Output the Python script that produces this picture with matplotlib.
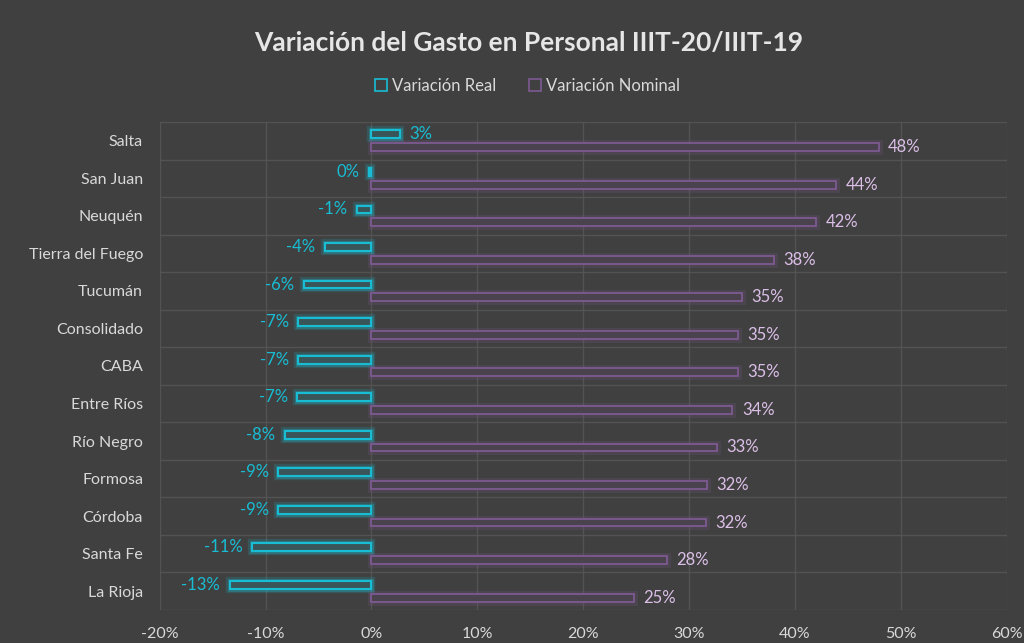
import matplotlib
matplotlib.use("Agg")
import matplotlib.pyplot as plt
import matplotlib.patheffects as pe
from matplotlib.patches import Patch
import numpy as np

plt.rcParams['font.family'] = ['Lato', 'DejaVu Sans']

provincias = ['Salta', 'San Juan', 'Neuquén', 'Tierra del Fuego', 'Tucumán',
              'Consolidado', 'CABA', 'Entre Ríos', 'Río Negro', 'Formosa',
              'Córdoba', 'Santa Fe', 'La Rioja']
var_real = [2.7, -0.2, -1.4, -4.4, -6.4, -6.9, -6.9, -7.0, -8.2, -8.8, -8.8, -11.3, -13.4]
var_nominal = [47.9, 43.9, 42.0, 38.0, 35.0, 34.6, 34.6, 34.1, 32.6, 31.7, 31.6, 27.9, 24.8]

bg = '#404040'
cyan = '#18bdd4'
purple = '#7d5a92'
grid_c = '#535353'
txt = '#d9d9d9'

fig = plt.figure(figsize=(10.24, 6.43), dpi=100, facecolor=bg)
ax = fig.add_axes([0.156, 0.0513, 0.827, 0.759], facecolor=bg)

y = np.arange(len(provincias))
h = 0.21
off = 0.17

glow_c = [pe.Stroke(linewidth=6, foreground=cyan, alpha=0.18),
          pe.Stroke(linewidth=3.5, foreground=cyan, alpha=0.3), pe.Normal()]
glow_p = [pe.Stroke(linewidth=5, foreground=purple, alpha=0.2), pe.Normal()]

bars_r = ax.barh(y - off, var_real, height=h, color='#3a5558',
                 edgecolor=cyan, linewidth=1.5, zorder=3)
bars_n = ax.barh(y + off, var_nominal, height=h, color='#4a434d',
                 edgecolor=purple, linewidth=1.3, zorder=3)
for b in bars_r:
    b.set_path_effects(glow_c)
for b in bars_n:
    b.set_path_effects(glow_p)

for yi, v in zip(y, var_real):
    if v >= 0:
        ax.text(v + 0.9, yi - off, f'{round(v):.0f}%', va='center', ha='left',
                color=cyan, fontsize=12, zorder=4)
    else:
        ax.text(v - 0.9, yi - off, f'{round(v):.0f}%', va='center', ha='right',
                color=cyan, fontsize=12, zorder=4)
for yi, v in zip(y, var_nominal):
    ax.text(v + 0.9, yi + off, f'{round(v):.0f}%', va='center', ha='left',
            color='#dcbfe8', fontsize=12, zorder=4)

ax.set_xlim(-20, 60)
ax.set_ylim(len(provincias) - 0.5, -0.5)
ax.set_xticks(np.arange(-20, 61, 10))
ax.set_xticklabels([f'{t}%' for t in range(-20, 61, 10)])
ax.set_yticks(y)
ax.set_yticklabels(provincias)
ax.set_yticks(np.arange(-0.5, len(provincias), 1), minor=True)
ax.tick_params(axis='both', which='major', length=0, colors=txt, labelsize=11.5)
ax.tick_params(axis='y', which='major', pad=12)
ax.tick_params(axis='x', which='major', pad=12)
ax.tick_params(axis='y', which='minor', length=0)
ax.grid(axis='x', which='major', color=grid_c, linewidth=1, zorder=0)
ax.grid(axis='y', which='minor', color=grid_c, linewidth=1, zorder=0)
for s in ax.spines.values():
    s.set_visible(False)

fig.text(0.516, 0.933, 'Variación del Gasto en Personal IIIT-20/IIIT-19',
         ha='center', va='center', color='#e6e6e6', fontsize=19, fontweight='bold')

handles = [Patch(facecolor='none', edgecolor=cyan, linewidth=1.2, label='Variación Real'),
           Patch(facecolor='none', edgecolor=purple, linewidth=1.2, label='Variación Nominal')]
fig.legend(handles=handles, loc='center', bbox_to_anchor=(0.515, 0.866), ncol=2,
           frameon=False, fontsize=12, labelcolor=txt, handlelength=0.7,
           handleheight=0.7, handletextpad=0.3, columnspacing=2.0)

fig.savefig('out.png', dpi=100, facecolor=bg)
